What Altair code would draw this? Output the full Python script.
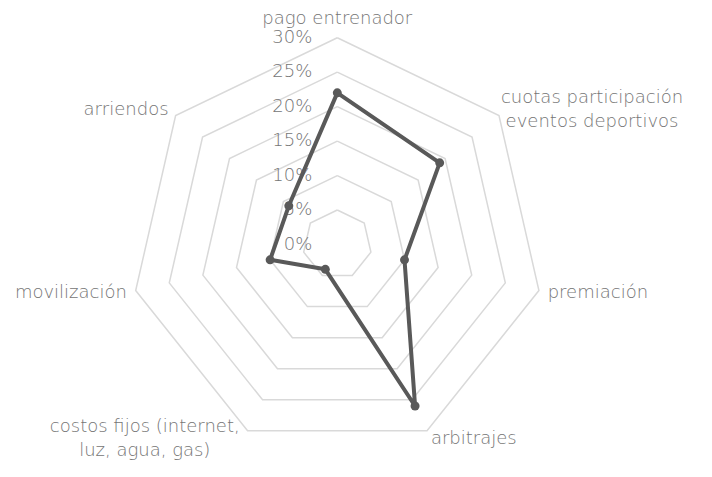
import math
import altair as alt
import pandas as pd

categories = [
    "pago entrenador",
    "cuotas participación|eventos deportivos",
    "premiación",
    "arbitrajes",
    "costos fijos (internet,|luz, agua, gas)",
    "movilización",
    "arriendos",
]
values = [22, 19, 10, 26, 4, 10, 9]
ring_levels = [5, 10, 15, 20, 25, 30]
tick_levels = [0, 5, 10, 15, 20, 25, 30]
tick_labels = ["0%", "5%", "10%", "15%", "20%", "25%", "30%"]

n = len(categories)
R_MAX = 30
PX_PER_UNIT = 206.8 / 30.0
PAD_TOP = 8
W, H = 694, 453
CX, CY = 329.3, 236.5 - PAD_TOP
LINE_H = 24
CHAR_W = 8.6

xdom = [-CX / PX_PER_UNIT, (W - CX) / PX_PER_UNIT]
ydom = [-(H - CY) / PX_PER_UNIT, CY / PX_PER_UNIT]

xs = alt.Scale(domain=xdom, nice=False, zero=False)
ys = alt.Scale(domain=ydom, nice=False, zero=False)

TEXT_COLOR = "#757575"
FONT = "DejaVu Sans"
FS = 18
FW = 200

series_df = pd.DataFrame({
    "idx": list(range(n + 1)),
    "cat": [categories[i % n] for i in range(n + 1)],
    "value": [values[i % n] for i in range(n + 1)],
})

ring_df = pd.DataFrame(
    [{"level": lv, "idx": i} for lv in ring_levels for i in range(n + 1)]
)

tick_df = pd.DataFrame({"level": tick_levels, "label": tick_labels})

label_df = pd.DataFrame({"idx": list(range(n)), "label": categories})

ang = f"2*PI*datum.idx/{n}"

rings = alt.Chart(ring_df).transform_calculate(
    x=f"datum.level*sin({ang})", y=f"datum.level*cos({ang})"
).mark_line(color="#d9d9d9", strokeWidth=1.5).encode(
    x=alt.X("x:Q", scale=xs, axis=None),
    y=alt.Y("y:Q", scale=ys, axis=None),
    detail="level:N",
    order="idx:Q",
)

ticks = alt.Chart(tick_df).mark_text(
    align="right", baseline="middle", dx=-25, font=FONT, fontSize=FS,
    color=TEXT_COLOR, fontWeight=FW,
).encode(
    x=alt.X("zero:Q", scale=xs, axis=None),
    y=alt.Y("level:Q", scale=ys, axis=None),
    text="label:N",
).transform_calculate(zero="0")

line = alt.Chart(series_df).transform_calculate(
    x=f"datum.value*sin({ang})", y=f"datum.value*cos({ang})"
).mark_line(color="#595959", strokeWidth=4, strokeJoin="round").encode(
    x=alt.X("x:Q", scale=xs, axis=None),
    y=alt.Y("y:Q", scale=ys, axis=None),
    order="idx:Q",
)

points = alt.Chart(series_df).transform_filter(f"datum.idx < {n}").transform_calculate(
    x=f"datum.value*sin({ang})", y=f"datum.value*cos({ang})"
).mark_point(filled=True, color="#595959", size=80, opacity=1, shape="circle").encode(
    x=alt.X("x:Q", scale=xs, axis=None),
    y=alt.Y("y:Q", scale=ys, axis=None),
)

LR = R_MAX + 9 / PX_PER_UNIT
SHIFT = LINE_H / 2 / PX_PER_UNIT
HALF_CHAR = CHAR_W / 2 / PX_PER_UNIT


def label_layer(filter_expr, align, baseline, center_block=False, dy=0):
    xexpr = f"{LR}*datum.s"
    if center_block:
        xexpr += f" + (datum.s > 0 ? 1 : -1)*datum.ml*{HALF_CHAR}"
    return alt.Chart(label_df).transform_calculate(
        s=f"sin({ang})", c=f"cos({ang})",
        nl="length(split(datum.label, '|'))",
        ml="max(length(split(datum.label, '|')[0]), length(peek(split(datum.label, '|'))))",
    ).transform_calculate(
        x=xexpr, y=f"{LR}*datum.c + (datum.nl-1)*{SHIFT}"
    ).transform_filter(filter_expr).mark_text(
        align=align, baseline=baseline, font=FONT, fontSize=FS,
        color=TEXT_COLOR, fontWeight=FW, lineBreak="|", lineHeight=LINE_H,
        dy=dy,
    ).encode(
        x=alt.X("x:Q", scale=xs, axis=None),
        y=alt.Y("y:Q", scale=ys, axis=None),
        text="label:N",
    )


lab_left = label_layer("datum.nl == 1 && datum.s > 0.1", "left", "middle")
lab_right = label_layer("datum.nl == 1 && datum.s < -0.1", "right", "middle")
lab_top = label_layer("abs(datum.s) <= 0.1", "center", "bottom", dy=-1)
lab_multi = label_layer("datum.nl > 1 && abs(datum.s) > 0.1", "center", "middle", True)

chart = alt.layer(
    rings, ticks, line, points, lab_left, lab_right, lab_top, lab_multi
).properties(
    width=W, height=H,
    padding={"top": PAD_TOP, "left": 0, "right": 0, "bottom": 0},
    autosize=alt.AutoSizeParams(type="none"),
).configure_view(stroke=None)

chart.save("out.html", embed_options={"renderer": "svg", "actions": False})
